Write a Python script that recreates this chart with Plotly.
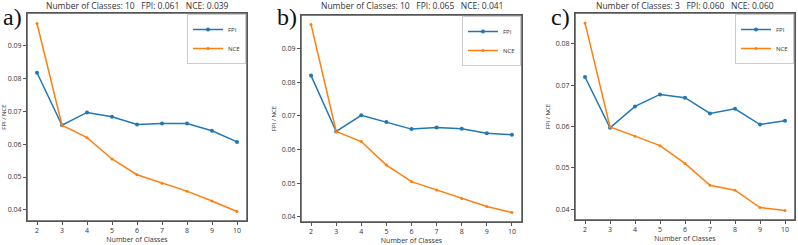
import plotly.graph_objects as go

classes = [2, 3, 4, 5, 6, 7, 8, 9, 10]

fpi_a = [0.0818, 0.0658, 0.0697, 0.0684, 0.0660, 0.0663, 0.0663, 0.0641, 0.0607]
nce_a = [0.0968, 0.0658, 0.0620, 0.0555, 0.0507, 0.0481, 0.0457, 0.0427, 0.0395]

fpi_b = [0.0820, 0.0654, 0.0702, 0.0682, 0.0661, 0.0666, 0.0662, 0.0649, 0.0644]
nce_b = [0.0972, 0.0654, 0.0624, 0.0554, 0.0505, 0.0480, 0.0455, 0.0431, 0.0413]

fpi_c = [0.0720, 0.0597, 0.0649, 0.0678, 0.0670, 0.0632, 0.0643, 0.0605, 0.0614]
nce_c = [0.0851, 0.0599, 0.0577, 0.0554, 0.0511, 0.0458, 0.0446, 0.0404, 0.0397]

titles = ["Number of Classes: 10   FPI: 0.061   NCE: 0.039",
          "Number of Classes: 10   FPI: 0.065   NCE: 0.041",
          "Number of Classes: 3   FPI: 0.060   NCE: 0.060"]
panel_labels = ["a)", "b)", "c)"]
y_ticks = [[0.04, 0.05, 0.06, 0.07, 0.08, 0.09],
           [0.04, 0.05, 0.06, 0.07, 0.08, 0.09],
           [0.04, 0.05, 0.06, 0.07, 0.08]]

W, H = 798, 245
BLUE = "#1f77b4"
ORANGE = "#ff7f0e"
FRAME = "#555555"

# pixel boxes: left, right, top, bottom
boxes = [(27, 247, 13, 221), (301, 522, 15, 222), (575, 795, 13, 220)]
yranges = [[0.0366, 0.1000], [0.0385, 0.1000], [0.0374, 0.0875]]

fig = go.Figure()
data = [(fpi_a, nce_a), (fpi_b, nce_b), (fpi_c, nce_c)]
annotations = []
shapes = []
for i, ((fpi, nce), (l, r, t, b)) in enumerate(zip(data, boxes)):
    n = "" if i == 0 else str(i + 1)
    leg = "legend" if i == 0 else f"legend{i+1}"
    fig.add_trace(go.Scatter(x=classes, y=fpi, mode="lines+markers", name="FPI",
                             line=dict(color=BLUE, width=1.5),
                             marker=dict(size=4, symbol="circle", color=BLUE),
                             xaxis="x" + n, yaxis="y" + n, legend=leg))
    fig.add_trace(go.Scatter(x=classes, y=nce, mode="lines+markers", name="NCE",
                             line=dict(color=ORANGE, width=1.5),
                             marker=dict(size=3, symbol="circle", color=ORANGE),
                             xaxis="x" + n, yaxis="y" + n, legend=leg))
    xd = [l / W, r / W]
    yd = [(H - b) / H, (H - t) / H]
    axstyle = dict(showline=True, mirror=True, linecolor=FRAME, linewidth=1,
                   ticks="outside", ticklen=3, tickwidth=1, tickcolor=FRAME, showgrid=False,
                   zeroline=False, tickfont=dict(size=7, color="#333333", family="Open Sans"))
    fig.update_layout(**{
        "xaxis" + n: dict(domain=xd, range=[1.6, 10.4], tickvals=classes,
                          anchor="y" + n, automargin=False,
                          title=dict(text="Number of Classes", font=dict(size=7, color="#333333", family="Open Sans"), standoff=1),
                          **axstyle),
        "yaxis" + n: dict(domain=yd, range=yranges[i], tickvals=y_ticks[i],
                          tickformat=".2f", anchor="x" + n, automargin=False,
                          title=dict(text="FPI / NCE", font=dict(size=6, color="#333333", family="Open Sans"), standoff=4),
                          **axstyle),
        leg: dict(x=(r - 1) / W, y=(H - t - 1) / H, xanchor="right", yanchor="top",
                  bgcolor="rgba(255,255,255,0.9)", bordercolor="#cccccc", borderwidth=1,
                  font=dict(size=6, color="#333333", family="Open Sans"),
                  tracegroupgap=0, itemwidth=30),
    })
    # plot frame in paper coordinates (style element, same as the axis box)
    shapes.append(dict(type="rect", xref="paper", yref="paper",
                       x0=xd[0], x1=xd[1], y0=yd[0], y1=yd[1],
                       line=dict(color=FRAME, width=1.5),
                       fillcolor="rgba(0,0,0,0)", layer="above"))
    annotations.append(dict(text=titles[i], x=(l + r) / 2 / W, y=(H - 6) / H,
                            xref="paper", yref="paper", showarrow=False,
                            xanchor="center", yanchor="middle",
                            font=dict(size=8.5, color="#333333", family="Open Sans")))
    annotations.append(dict(text=panel_labels[i], x=(l - 26) / W, y=(H - 2) / H,
                            xref="paper", yref="paper", showarrow=False,
                            xanchor="left", yanchor="top",
                            font=dict(size=24, color="#111111", family="Liberation Serif")))

fig.update_layout(width=W, height=H, margin=dict(l=0, r=0, t=0, b=0),
                  paper_bgcolor="white", plot_bgcolor="white",
                  annotations=annotations, shapes=shapes)
fig.write_html("out.html", config={"displayModeBar": False},
               post_script="document.body.style.margin='0';document.body.style.overflow='hidden';")
